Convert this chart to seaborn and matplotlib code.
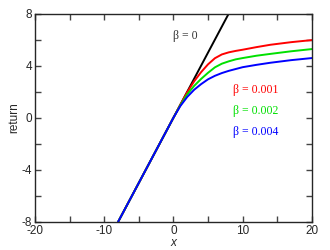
import pandas as pd
import matplotlib
matplotlib.use("Agg")
import matplotlib.pyplot as plt
import seaborn as sns

# data
x_black = [-8, 8]
y_black = [-8, 8]

x_red = [-8, 0, 1, 2, 3, 4, 5, 6, 7, 8, 9, 10, 12, 14, 17, 20]
y_red = [-8, 0, 1, 1.97, 2.8, 3.5, 4.1, 4.57, 4.86, 5.02, 5.13, 5.22, 5.42, 5.6, 5.8, 5.96]

x_green = [-8, 0, 1, 2, 3, 4, 5, 6, 7, 8, 9, 10, 12, 14, 17, 20]
y_green = [-8, 0, 0.96, 1.8, 2.45, 2.98, 3.45, 3.87, 4.15, 4.33, 4.48, 4.58, 4.76, 4.9, 5.1, 5.27]

x_blue = [-8, 0, 1, 2, 3, 4, 5, 6, 7, 8, 9, 10, 12, 14, 17, 20]
y_blue = [-8, 0, 0.9, 1.6, 2.15, 2.58, 2.95, 3.22, 3.43, 3.6, 3.74, 3.88, 4.06, 4.22, 4.42, 4.58]

labels = ["\u03b2 = 0", "\u03b2 = 0.001", "\u03b2 = 0.002", "\u03b2 = 0.004"]
colors = ["black", "#ff0000", "#00e000", "#0000ff"]

sns.set_style("ticks")
plt.rcParams['font.family'] = ['Liberation Sans', 'DejaVu Sans']
plt.rcParams['axes.unicode_minus'] = False

fig = plt.figure(figsize=(3.3, 2.5), dpi=100)
ax = fig.add_axes([0.106, 0.112, 0.839, 0.834])

series = [(x_black, y_black), (x_red, y_red), (x_green, y_green), (x_blue, y_blue)]
for (xs, ys), c in zip(series, colors):
    sns.lineplot(x=xs, y=ys, color=c, lw=1.4, ax=ax, sort=False)

ax.set_xlim(-20, 20)
ax.set_ylim(-8, 8)
ax.set_xticks([-20, -10, 0, 10, 20])
ax.set_xticks([-15, -5, 5, 15], minor=True)
ax.set_yticks([-8, -4, 0, 4, 8])
ax.set_yticks([-6, -2, 2, 6], minor=True)
ax.tick_params(which="both", direction="in", length=4, width=1, color="#444444",
               top=True, right=True, labelsize=8.5, pad=2)
for s in ax.spines.values():
    s.set_linewidth(1)
ax.set_xlabel("x", style="italic", fontsize=8.5, labelpad=0)
ax.set_ylabel("return", fontsize=8.5, labelpad=1)

# curve labels
ax.text(0, 6.3, labels[0], color="#333333", fontsize=8.5, family="Liberation Serif", va="center")
ax.text(8.6, 2.1, labels[1], color=colors[1], fontsize=8.5, family="Liberation Serif", va="center")
ax.text(8.6, 0.5, labels[2], color=colors[2], fontsize=8.5, family="Liberation Serif", va="center")
ax.text(8.6, -1.1, labels[3], color=colors[3], fontsize=8.5, family="Liberation Serif", va="center")

fig.savefig("out.png", dpi=100)
